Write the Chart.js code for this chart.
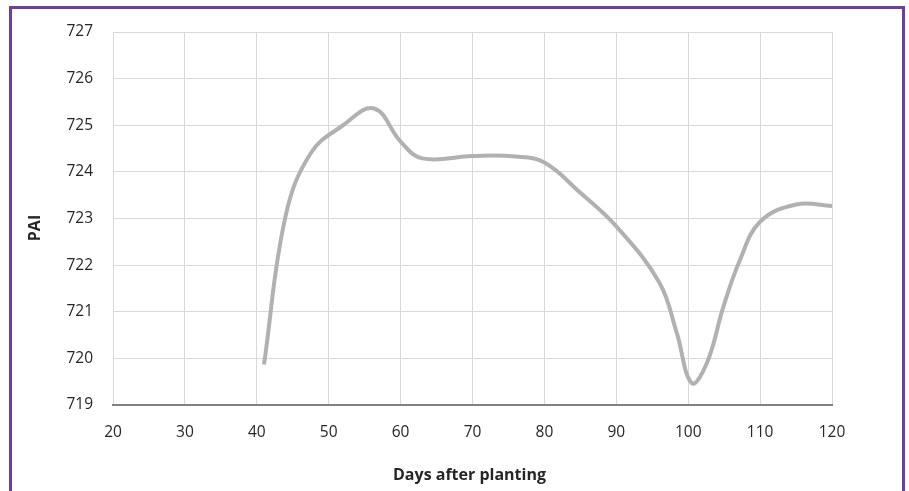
<!DOCTYPE html>
<html>
<head>
<meta charset="utf-8">
<script src="https://cdn.jsdelivr.net/npm/chart.js@4.4.1/dist/chart.umd.min.js"></script>
<style>
  html, body { margin: 0; padding: 0; background: #fff; overflow: hidden; }
  #frame {
    position: absolute; left: 9px; top: 6px; width: 896px; height: 520px;
    border: 3px solid #6b40a0; box-sizing: border-box;
  }
  #wrap { position: absolute; left: 0; top: 0; width: 909px; height: 491px; }
</style>
</head>
<body>
<div id="frame"></div>
<div id="wrap"><canvas id="chart"></canvas></div>
<script>
// days after planting and PAI
const days = [41, 44, 47.5, 52, 56.3, 60, 63, 70, 76, 80, 85, 90, 96, 98.4, 100.5, 102.6, 104.9, 107.2, 110, 115, 120];
const pai = [719.87, 723.05, 724.4, 725.0, 725.36, 724.65, 724.29, 724.34, 724.33, 724.2, 723.55, 722.83, 721.62, 720.55, 719.47, 719.9, 721.11, 722.11, 722.93, 723.3, 723.27];
const xTitle = "Days after planting";
const yTitle = "PAI";

const font = "'Open Sans', Lato, sans-serif";

const axisTitles = {
    id: "axisTitles",
    afterDraw(chart) {
        const ctx = chart.ctx;
        const area = chart.chartArea;
        ctx.save();
        ctx.fillStyle = "#262626";
        ctx.font = "bold 16px " + font;
        ctx.textAlign = "center";
        ctx.textBaseline = "middle";
        ctx.fillText(xTitle, (area.left + area.right) / 2 - 3, 475);
        ctx.translate(35, 228);
        ctx.rotate(-Math.PI / 2);
        ctx.fillText(yTitle, 0, 0);
        ctx.restore();
    }
};

const ctx = document.getElementById("chart").getContext("2d");
new Chart(ctx, {
    type: "line",
    data: {
        datasets: [{
            data: days.map((d, i) => ({ x: d, y: pai[i] })),
            borderColor: "#b1b1b5",
            borderWidth: 4,
            pointRadius: 0,
            tension: 0.4,
            fill: false
        }]
    },
    options: {
        responsive: true,
        maintainAspectRatio: false,
        animation: false,
        layout: { padding: { left: 0, right: 77, top: 32, bottom: 0 } },
        plugins: { legend: false, tooltip: { enabled: false } },
        scales: {
            x: {
                type: "linear",
                min: 20, max: 120,
                ticks: { stepSize: 10, padding: 18, color: "#262626", font: { family: font, size: 15.5 } },
                grid: { color: "#d9d9d9", lineWidth: 1, drawTicks: false },
                border: { color: "#808080", width: 2 },
                afterFit(scale) { scale.height = 86; }
            },
            y: {
                min: 719, max: 727,
                ticks: { stepSize: 1, padding: 20, color: "#262626", font: { family: font, size: 15.5 } },
                grid: { color: "#d9d9d9", lineWidth: 1, drawTicks: false },
                border: { display: false },
                afterFit(scale) { scale.width = 113; }
            }
        }
    },
    plugins: [axisTitles]
});
</script>
</body>
</html>
